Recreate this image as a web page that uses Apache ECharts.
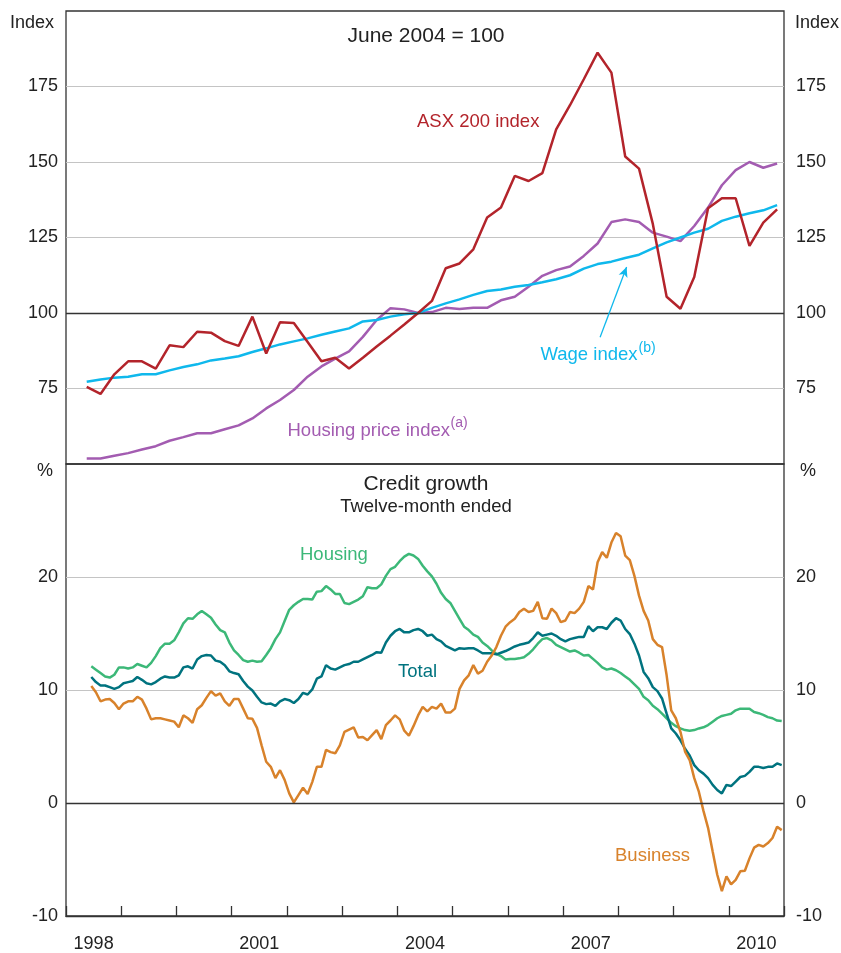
<!DOCTYPE html>
<html>
<head>
<meta charset="utf-8">
<title>Asset prices and credit growth</title>
<script src="https://cdn.jsdelivr.net/npm/echarts@6/dist/echarts.min.js"></script>
<style>
  html, body { margin: 0; padding: 0; background: #fff; }
  #chart { width: 841px; height: 953px; }
</style>
</head>
<body>
<div id="chart"></div>
<script>
// Quarterly indices, June quarter 1998 to December quarter 2010 (June 2004 = 100)
const quarterStart = 1998.375
const asx200 = [
  75.5, 73.2, 79.7, 84.0, 84.0, 81.6, 89.3, 88.7, 93.8, 93.5,
  90.7, 89.1, 98.8, 86.6, 96.9, 96.7, 90.4, 84.0, 85.2, 81.6,
  85.2, 88.9, 92.5, 96.2, 100.0, 104.0, 114.8, 116.4, 121.1, 131.6,
  134.9, 145.4, 143.7, 146.3, 160.8, 168.8, 177.4, 186.2, 179.6, 151.8,
  147.8, 129.5, 105.4, 101.4, 111.9, 134.7, 138.0, 138.0, 122.2, 129.9,
  134.3
]
const housingPrice = [
  51.8, 51.8, 52.7, 53.6, 54.8, 55.9, 57.7, 58.9, 60.2, 60.2,
  61.5, 62.8, 65.1, 68.4, 71.2, 74.5, 78.9, 82.3, 84.9, 87.3,
  92.1, 97.7, 101.6, 101.2, 100.0, 100.3, 101.7, 101.3, 101.7, 101.7,
  104.2, 105.4, 108.7, 112.3, 114.2, 115.4, 118.9, 123.0, 130.1, 131.0,
  130.1, 126.6, 125.3, 123.8, 128.8, 134.9, 142.3, 147.3, 150.0, 148.1,
  149.5
]
const wageIndex = [
  77.2, 78.0, 78.6, 78.9, 79.7, 79.7, 81.0, 82.1, 83.0, 84.3,
  84.9, 85.7, 87.1, 88.3, 89.6, 90.6, 91.6, 92.8, 93.9, 94.9,
  97.2, 97.7, 98.8, 99.6, 100.0, 101.7, 103.2, 104.5, 106.0, 107.3,
  107.8, 108.7, 109.3, 110.2, 111.2, 112.5, 114.7, 116.2, 117.0, 118.2,
  119.3, 121.4, 123.4, 125.0, 126.6, 127.9, 130.5, 131.9, 133.0, 134.0,
  135.7
]

// Credit growth, twelve-month ended, monthly June 1998 to December 2010 (%)
const monthStart = 1998 + 5.5 / 12
const creditHousing = [
  12.1, 11.8, 11.5, 11.2, 11.1, 11.35, 12.0, 12.0, 11.9, 12.0,
  12.3, 12.15, 12.0, 12.4, 13.0, 13.7, 14.1, 14.1, 14.4, 15.1,
  15.9, 16.35, 16.3, 16.7, 17.0, 16.7, 16.4, 15.8, 15.3, 15.1,
  14.2, 13.5, 13.1, 12.65, 12.5,
  12.6, 12.5, 12.55, 13.1, 13.7, 14.5, 15.1, 16.1, 17.1, 17.5,
  17.8, 18.05, 18.05, 18.0, 18.7, 18.75, 19.2, 18.9, 18.5, 18.5,
  17.7, 17.6, 17.8, 18.0, 18.3, 19.1, 19.0, 19.0, 19.35, 20.1,
  20.7, 20.9, 21.4, 21.8, 22.05, 21.9, 21.6, 21.0, 20.5,
  20.05, 19.4, 18.6, 18.05, 17.7, 17.0, 16.3, 15.6, 15.3, 14.9,
  14.7, 14.2, 13.9, 13.5, 13.2, 13.0, 12.7, 12.75, 12.75, 12.8,
  12.9, 13.2, 13.6, 14.1, 14.5, 14.6, 14.4, 14.0, 13.8, 13.6,
  13.4, 13.5, 13.3, 13.05, 13.1, 12.75, 12.4, 12.0, 11.8,
  11.9, 11.75, 11.5, 11.2, 10.9, 10.5, 10.1, 9.4, 9.1, 8.6,
  8.3, 7.9, 7.5, 7.1, 6.8, 6.6, 6.45, 6.4, 6.45, 6.6,
  6.7, 6.9, 7.2, 7.5, 7.7, 7.8, 7.9, 8.2, 8.35, 8.35,
  8.35, 8.05, 7.95, 7.8, 7.6, 7.5, 7.3, 7.25
]
const creditTotal = [
  11.15, 10.7, 10.4, 10.4, 10.25, 10.1, 10.25, 10.6, 10.7, 10.8,
  11.15, 10.9, 10.6, 10.5, 10.7, 11.0, 11.2, 11.1, 11.1, 11.3,
  12.0, 12.1, 11.9, 12.7, 13.0, 13.1, 13.05, 12.6, 12.5, 12.2,
  11.65, 11.5, 11.4, 10.8, 10.3,
  9.95, 9.4, 8.9, 8.75, 8.8, 8.6, 9.0, 9.2, 9.1, 8.85,
  9.2, 9.75, 9.6, 10.05, 11.0, 11.2, 12.2, 11.9, 11.8, 12.0,
  12.2, 12.3, 12.5, 12.5, 12.7, 12.9, 13.1, 13.35, 13.3, 14.2,
  14.8, 15.2, 15.4, 15.1, 15.1, 15.3, 15.4, 15.2, 14.8,
  14.9, 14.5, 14.3, 13.9, 13.7, 13.5, 13.7, 13.65, 13.7, 13.7,
  13.5, 13.25, 13.25, 13.25, 13.15, 13.3, 13.45, 13.65, 13.85, 14.0,
  14.1, 14.2, 14.6, 15.1, 14.8, 14.9, 15.0, 14.8, 14.5, 14.3,
  14.5, 14.6, 14.7, 14.7, 15.65, 15.2, 15.55, 15.55, 15.4,
  15.95, 16.35, 16.15, 15.4, 14.95, 14.1, 13.05, 11.6, 11.05, 10.25,
  9.9, 9.25, 7.9, 6.6, 6.15, 5.55, 4.8, 4.2, 3.35, 2.9,
  2.6, 2.2, 1.6, 1.15, 0.85, 1.6, 1.5, 1.9, 2.3, 2.4,
  2.75, 3.2, 3.2, 3.1, 3.2, 3.2, 3.5, 3.35
]
const creditBusiness = [
  10.35, 9.8, 9.0, 9.15, 9.2, 8.85, 8.3, 8.8, 9.0, 9.0,
  9.4, 9.15, 8.35, 7.4, 7.5, 7.5, 7.4, 7.3, 7.2, 6.7,
  7.75, 7.5, 7.1, 8.3, 8.65, 9.3, 9.9, 9.5, 9.7, 9.0,
  8.6, 9.2, 9.2, 8.35, 7.5,
  7.45, 6.65, 5.1, 3.65, 3.2, 2.2, 2.9, 2.05, 0.85, 0.05,
  0.7, 1.35, 0.8, 1.85, 3.2, 3.2, 4.7, 4.5, 4.4, 5.1,
  6.3, 6.5, 6.7, 5.8, 5.85, 5.55, 6.0, 6.45, 5.65, 6.9,
  7.3, 7.75, 7.4, 6.4, 5.95, 6.8, 7.75, 8.5, 8.1,
  8.5, 8.35, 8.8, 8.0, 8.0, 8.35, 10.1, 10.85, 11.3, 12.2,
  11.45, 11.7, 12.5, 13.05, 13.8, 14.8, 15.6, 16.0, 16.3, 16.9,
  17.2, 16.9, 17.0, 17.8, 16.35, 16.3, 17.2, 16.8, 16.0, 16.15,
  16.9, 16.8, 17.2, 17.8, 19.2, 18.9, 21.3, 22.2, 21.7,
  23.05, 23.9, 23.6, 21.9, 21.5, 20.1, 18.35, 17.0, 16.15, 14.5,
  14.0, 13.8, 11.3, 8.2, 7.5, 6.3, 4.55, 3.8, 2.2, 1.0,
  -0.7, -2.2, -4.3, -6.35, -7.8, -6.5, -7.2, -6.8, -6.05, -6.0,
  -4.9, -3.95, -3.7, -3.85, -3.55, -3.1, -2.1, -2.4
]

const yearLabels = ['1998', '1999', '2000', '2001', '2002', '2003', '2004',
  '2005', '2006', '2007', '2008', '2009', '2010']

const FONT = '"Liberation Sans", Arial, Helvetica, sans-serif'
const AXIS_COLOR = '#333'
const GRID_LINE = '#c4c4c4'
const TEXT_COLOR = '#222'

const colors = {
  asx: '#b3242b',
  housingPrice: '#a35cb1',
  wage: '#0fb8ec',
  housing: '#3cb878',
  total: '#00737f',
  business: '#d8822b'
}

function toPoints(values, start, step) {
  return values.map((v, i) => [start + i * step, v])
}

function lineSeries(name, values, start, step, color, xi, yi) {
  return {
    name,
    type: 'line',
    xAxisIndex: xi,
    yAxisIndex: yi,
    data: toPoints(values, start, step),
    showSymbol: false,
    symbol: 'none',
    lineStyle: { color, width: 2.5 },
    itemStyle: { color },
    silent: true
  }
}

function valueAxis(gridIndex, position, min, max, interval, hide, margin) {
  return {
    type: 'value',
    gridIndex,
    position,
    min,
    max,
    interval,
    axisLine: { show: false },
    axisTick: { show: false },
    axisLabel: {
      color: TEXT_COLOR,
      fontFamily: FONT,
      fontSize: 18,
      margin,
      formatter: v => (hide.includes(v) ? '' : String(v))
    },
    splitLine: {
      show: position === 'left',
      showMinLine: false,
      showMaxLine: false,
      lineStyle: { color: GRID_LINE, width: 1 }
    }
  }
}

function baseLine(value) {
  return {
    silent: true,
    symbol: 'none',
    label: { show: false },
    lineStyle: { color: AXIS_COLOR, width: 1.3, type: 'solid' },
    data: [{ yAxis: value }]
  }
}

function text(str, x, y, color, size, align) {
  return {
    type: 'text',
    x,
    y,
    silent: true,
    style: {
      text: str,
      fill: color,
      font: `${size}px ${FONT}`,
      textAlign: align || 'left',
      textVerticalAlign: 'middle'
    }
  }
}

const chart = echarts.init(document.getElementById('chart'))

const wageSeries = lineSeries('Wage index', wageIndex, quarterStart, 0.25, colors.wage, 0, 0)
wageSeries.markLine = baseLine(100)
// arrow pointing from the label to the wage line
wageSeries.markLine.data.push([
  { coord: [2007.67, 92.0], symbol: 'none' },
  { coord: [2008.15, 115.2], symbol: 'arrow', symbolSize: [7, 10] }
])
wageSeries.markLine.data[1].forEach(p => { p.lineStyle = { color: colors.wage, width: 1.3 } })

const housingSeries = lineSeries('Housing', creditHousing, monthStart, 1 / 12, colors.housing, 1, 2)
housingSeries.markLine = baseLine(0)

chart.setOption({
  animation: false,
  backgroundColor: '#fff',
  grid: [
    { left: 66, top: 11, width: 718, height: 453, show: true, borderColor: AXIS_COLOR, borderWidth: 1.3 },
    { left: 66, top: 464, width: 718, height: 454, show: true, borderColor: AXIS_COLOR, borderWidth: 1.3 }
  ],
  xAxis: [
    { type: 'value', gridIndex: 0, min: 1998, max: 2011, show: false },
    { type: 'value', gridIndex: 1, min: 1998, max: 2011, show: false },
    {
      type: 'category',
      gridIndex: 1,
      position: 'bottom',
      data: yearLabels,
      boundaryGap: true,
      axisLine: { show: true, onZero: false, lineStyle: { color: AXIS_COLOR, width: 1.3 } },
      axisTick: { show: true, inside: true, length: 10, interval: 0, lineStyle: { color: AXIS_COLOR, width: 1.3 } },
      axisLabel: { interval: 2, color: TEXT_COLOR, fontFamily: FONT, fontSize: 18, margin: 19 },
      splitLine: { show: false }
    }
  ],
  yAxis: [
    valueAxis(0, 'left', 50, 200, 25, [50, 200], 8),
    valueAxis(0, 'right', 50, 200, 25, [50, 200], 12),
    valueAxis(1, 'left', -10, 30, 10, [30], 8),
    valueAxis(1, 'right', -10, 30, 10, [30], 12)
  ],
  series: [
    lineSeries('Housing price index', housingPrice, quarterStart, 0.25, colors.housingPrice, 0, 0),
    wageSeries,
    lineSeries('ASX 200 index', asx200, quarterStart, 0.25, colors.asx, 0, 0),
    housingSeries,
    lineSeries('Total', creditTotal, monthStart, 1 / 12, colors.total, 1, 2),
    lineSeries('Business', creditBusiness, monthStart, 1 / 12, colors.business, 1, 2)
  ],
  graphic: [
    text('Index', 10, 23, TEXT_COLOR, 18),
    text('Index', 795, 23, TEXT_COLOR, 18),
    text('%', 45, 471, TEXT_COLOR, 18, 'center'),
    text('%', 808, 471, TEXT_COLOR, 18, 'center'),
    text('June 2004 = 100', 426, 36, TEXT_COLOR, 21, 'center'),
    text('Credit growth', 426, 484, TEXT_COLOR, 21, 'center'),
    text('Twelve-month ended', 426, 507, TEXT_COLOR, 18.5, 'center'),
    text('ASX 200 index', 417, 122, colors.asx, 18.5),
    text('Housing price index', 287.5, 431, colors.housingPrice, 18.5),
    text('(a)', 450.5, 423, colors.housingPrice, 14),
    text('Wage index', 540.5, 355, colors.wage, 18.5),
    text('(b)', 638.5, 348, colors.wage, 14),
    text('Housing', 300, 555, colors.housing, 18.5),
    text('Total', 398, 672, colors.total, 18.5),
    text('Business', 615, 856, colors.business, 18.5)
  ]
})

window.addEventListener('resize', () => chart.resize())
</script>
</body>
</html>
